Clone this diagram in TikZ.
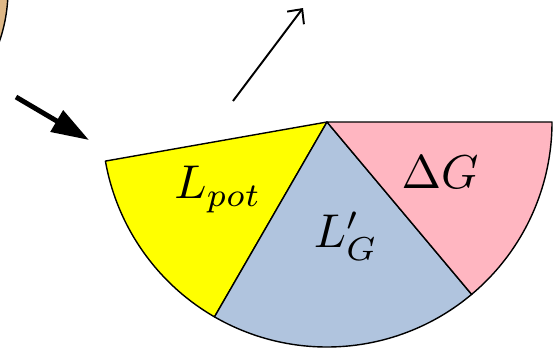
\documentclass[tikz,border=0pt]{standalone}
\usepackage{amsmath, amssymb}
\usepackage{xcolor}
\usepackage{tikz}
\usetikzlibrary{arrows.meta}
\definecolor{potyellow}{RGB}{255,255,0}
\definecolor{gainblue}{RGB}{176,196,222}
\definecolor{deltapink}{RGB}{255,182,193}
\definecolor{bodytan}{RGB}{222,184,135}
\tikzset{
    wedge/.style={draw=black, line width=0.8pt, line join=round},
    wedgelabel/.style={scale=2.7, inner sep=0pt}
}

\begin{document}
\begin{tikzpicture}
    \useasboundingbox (0,-7) rectangle (11.08,0);
    % body at the top left corner
    \begin{scope}
      \clip (0,-7) rectangle (11.08,0);
      \filldraw[fill=bodytan, line width=0.8pt] (-3,0.2) circle[radius=3.16];
    \end{scope}
    % the half disc
    \coordinate (hub) at (6.54,-2.44);
    \filldraw[wedge, fill=potyellow] (hub) -- +(-170:4.5)
        arc[start angle=-170, end angle=-120, radius=4.5] -- cycle;
    \filldraw[wedge, fill=gainblue] (hub) -- +(-120:4.5)
        arc[start angle=-120, end angle=-50, radius=4.5] -- cycle;
    \filldraw[wedge, fill=deltapink] (hub) -- +(-50:4.5)
        arc[start angle=-50, end angle=0, radius=4.5] -- cycle;
    \node[wedgelabel] (lpot) at (4.36,-3.79) {$L_{pot}$};
    \node[wedgelabel] (lgain) at (6.92,-4.73) {$L'_G$};
    \node[wedgelabel] (dgain) at (8.80,-3.44) {$\Delta G$};
    % arrows
    \coordinate (inflowtail) at (0.32,-1.94);
    \coordinate (inflowhead) at (1.78,-2.80);
    \draw[line width=2.8pt, -{Triangle[length=0.75cm,width=0.48cm]}]
        (inflowtail) -- (inflowhead);
    \coordinate (outflowtail) at (4.66,-2.02);
    \coordinate (outflowhead) at (6.06,-0.16);
    \draw[line width=1.1pt, -{Straight Barb[length=0.22cm,width=0.42cm]}]
        (outflowtail) -- (outflowhead);
\end{tikzpicture}
\end{document}
